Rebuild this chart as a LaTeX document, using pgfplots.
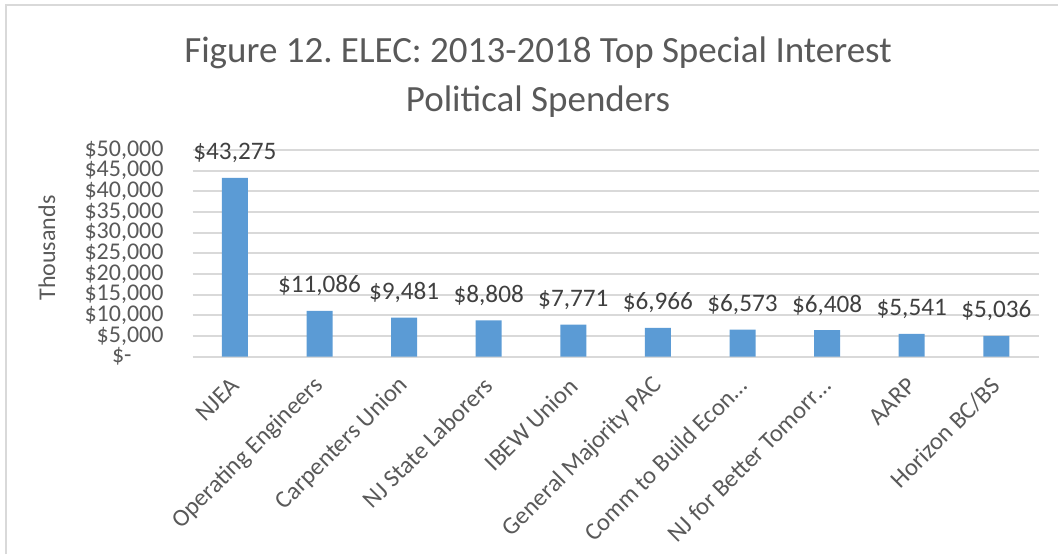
\documentclass[border=0pt]{standalone}
\usepackage{pgfplots}
\pgfplotsset{compat=1.18}
\usepackage{fontspec}
\setmainfont{Carlito}
\frenchspacing
\definecolor{barblue}{HTML}{5B9BD5}
\definecolor{gridgray}{HTML}{D9D9D9}
\definecolor{txtgray}{HTML}{595959}
\definecolor{lblgray}{HTML}{404040}
\begin{document}
\begin{tikzpicture}[x=0.5pt,y=0.5pt]
\useasboundingbox (0,0) rectangle (1058,554);
\draw[gridgray,line width=0.8pt] (6,0) -- (6,549) -- (1058,549);
\node[anchor=base,text=txtgray,font=\fontsize{18.5}{20}\selectfont] at (538,492) {Figure 12. ELEC: 2013-2018 Top Special Interest};
\node[anchor=base,text=txtgray,font=\fontsize{18.5}{20}\selectfont] at (538,443) {Political Spenders};
\node[rotate=90,text=txtgray,font=\fontsize{12}{14}\selectfont] at (47,306) {Thousands};
\begin{axis}[
  at={(96.3pt,98.65pt)}, anchor=south west,
  scale only axis, width=423pt, height=103.35pt,
  xmin=-0.5, xmax=9.5, ymin=0, ymax=50000,
  axis line style={draw=none},
  major tick length=0pt,
  ymajorgrids, grid style={gridgray,line width=1pt},
  scaled y ticks=false,
  ytick={5000,10000,15000,20000,25000,30000,35000,40000,45000,50000},
  yticklabels={{\$5,000},{\$10,000},{\$15,000},{\$20,000},{\$25,000},{\$30,000},{\$35,000},{\$40,000},{\$45,000},{\$50,000}},
  extra y ticks={0},
  extra y tick labels={{\$-}},
  extra y tick style={yticklabel style={anchor=east,xshift=-16pt}},
  yticklabel style={anchor=east,xshift=-11pt,text=txtgray,font=\fontsize{12}{12}\selectfont},
  xtick={0,...,9},
  xticklabels={NJEA,Operating Engineers,Carpenters Union,NJ State Laborers,IBEW Union,General Majority PAC,Comm to Build Econ…,NJ for Better Tomorr…,AARP,Horizon BC/BS},
  xticklabel style={rotate=45,anchor=east,xshift=-5.4pt,yshift=-8.9pt,text=txtgray,font=\fontsize{12.3}{12}\selectfont},
  /pgf/number format/assume math mode=true,
  nodes near coords={\$\pgfmathprintnumber[fixed,1000 sep={,}]{\pgfplotspointmeta}},
  every node near coord/.append style={anchor=base,yshift=9pt,text=lblgray,font=\fontsize{12.6}{13}\selectfont},
  clip=false,
]
\addplot[ybar,bar width=13pt,fill=barblue,draw=none] coordinates {
(0,43275) (1,11086) (2,9481) (3,8808) (4,7771) (5,6966) (6,6573) (7,6408) (8,5541) (9,5036)};
\end{axis}
\end{tikzpicture}
\end{document}
